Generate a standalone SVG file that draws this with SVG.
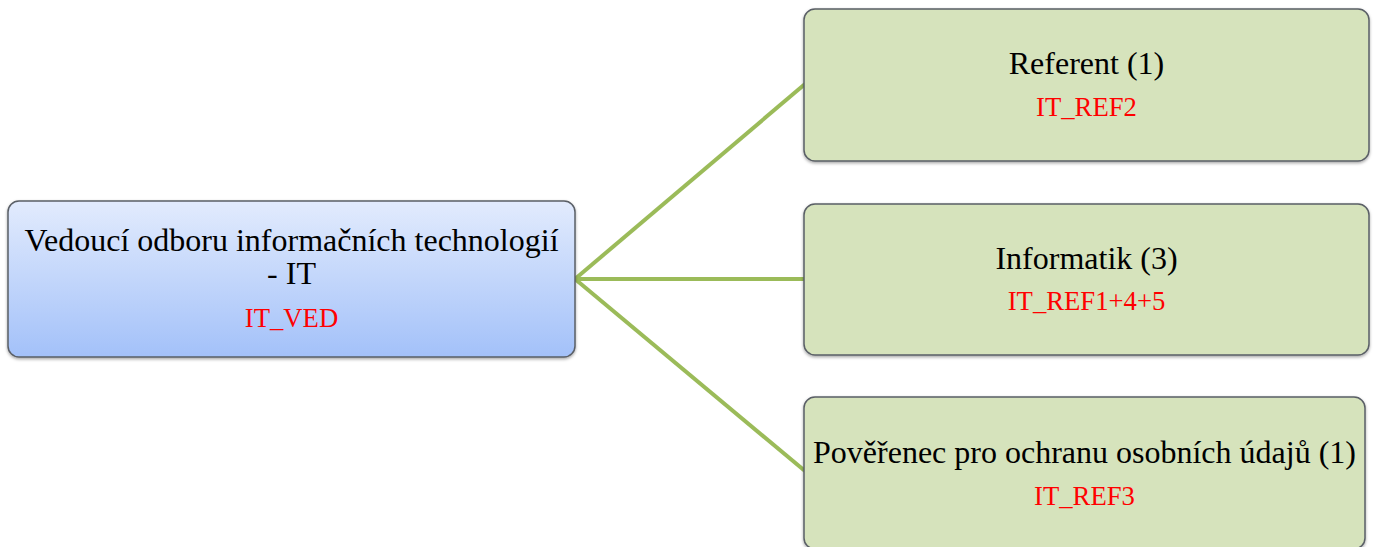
<svg xmlns="http://www.w3.org/2000/svg" width="1379" height="547" viewBox="0 0 1379 547">
<defs>
<linearGradient id="blue" x1="0" y1="0" x2="0" y2="1">
<stop offset="0" stop-color="#e2ebfd"/>
<stop offset="1" stop-color="#a3c1f9"/>
</linearGradient>
<filter id="sh" x="-5%" y="-5%" width="110%" height="115%">
<feDropShadow dx="0" dy="1.5" stdDeviation="1.5" flood-color="#000" flood-opacity="0.35"/>
</filter>
</defs>
<style>
.box{stroke:#5a5f66;stroke-width:1.5;filter:url(#sh)}
.g{fill:#d6e3bc}
.t{font-family:"Liberation Serif","Times New Roman",serif;font-size:32px;fill:#000;text-anchor:middle}
.r{font-family:"Liberation Serif","Times New Roman",serif;font-size:26.7px;fill:#ff0000;text-anchor:middle}
.c{stroke:#9bbb59;stroke-width:4;fill:none}
</style>
<rect width="1379" height="547" fill="#fff"/>
<g id="connectors">
<line class="c" x1="575" y1="279" x2="805" y2="84"/>
<line class="c" x1="575" y1="279" x2="805" y2="279"/>
<line class="c" x1="575" y1="279" x2="805" y2="471"/>
</g>
<g id="node-vedouci">
<rect class="box" x="8" y="201" width="567" height="156" rx="11" fill="url(#blue)"/>
<text class="t" x="291.5" y="251">Vedoucí odboru informačních technologií</text>
<text class="t" x="291.5" y="284">- IT</text>
<text class="r" x="291.5" y="327">IT_VED</text>
</g>
<g id="node-referent">
<rect class="box g" x="804" y="9" width="565" height="152" rx="11"/>
<text class="t" x="1086.5" y="74">Referent (1)</text>
<text class="r" x="1086.5" y="116">IT_REF2</text>
</g>
<g id="node-informatik">
<rect class="box g" x="804" y="204" width="565" height="151" rx="11"/>
<text class="t" x="1086.5" y="269">Informatik (3)</text>
<text class="r" x="1086.5" y="310">IT_REF1+4+5</text>
</g>
<g id="node-poverenec">
<rect class="box g" x="804" y="397" width="561" height="152" rx="11"/>
<text class="t" x="1084.5" y="463">Pověřenec pro ochranu osobních údajů (1)</text>
<text class="r" x="1084.5" y="505">IT_REF3</text>
</g>
</svg>
